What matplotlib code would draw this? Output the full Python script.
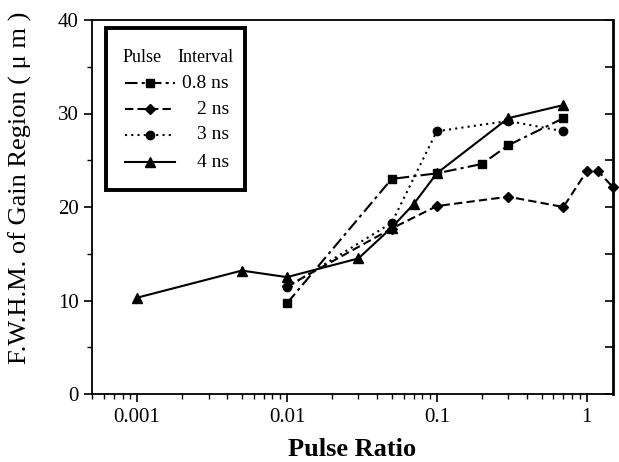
import matplotlib
matplotlib.use("Agg")
import matplotlib.pyplot as plt
from matplotlib.lines import Line2D
from matplotlib.patches import Rectangle
from matplotlib.ticker import MultipleLocator, LogLocator, NullFormatter, FixedLocator, FixedFormatter

plt.rcParams['font.family'] = ['Liberation Serif', 'DejaVu Serif']

# Data
x08 = [0.01, 0.05, 0.1, 0.2, 0.3, 0.7]
y08 = [9.7, 23.0, 23.6, 24.6, 26.6, 29.5]
x2 = [0.01, 0.05, 0.1, 0.3, 0.7, 1.0, 1.2, 1.5]
y2 = [11.5, 17.7, 20.1, 21.1, 20.0, 23.8, 23.8, 22.1]
x3 = [0.01, 0.05, 0.1, 0.3, 0.7]
y3 = [11.4, 18.3, 28.1, 29.2, 28.1]
x4 = [0.001, 0.005, 0.01, 0.03, 0.05, 0.07, 0.1, 0.3, 0.7]
y4 = [10.3, 13.2, 12.5, 14.5, 17.8, 20.3, 23.6, 29.5, 30.9]

labels = ["0.8 ns", "2 ns", "3 ns", "4 ns"]
xtick_vals = [0.001, 0.01, 0.1, 1]
xtick_labels = ["0.001", "0.01", "0.1", "1"]

W, H = 619, 462
fig = plt.figure(figsize=(W / 100, H / 100), dpi=100)
ax = fig.add_axes([92 / W, (H - 394) / H, 521 / W, 374 / H])

styles = [
    dict(ls=(0, (6, 2, 1.5, 2)), marker='s', ms=6),
    dict(ls=(0, (4, 2)), marker='D', ms=5.5),
    dict(ls=(0, (1, 2)), marker='o', ms=6),
    dict(ls='-', marker='^', ms=7),
]
series = [(x08, y08), (x2, y2), (x3, y3), (x4, y4)]
for (xs, ys), st in zip(series, styles):
    ax.plot(xs, ys, color='black', lw=1.5, linestyle=st['ls'], marker=st['marker'],
            ms=st['ms'], mfc='black', mec='black', clip_on=False, zorder=3)

ax.set_xscale('log')
ax.set_xlim(0.0005, 1.5)
ax.set_ylim(0, 40)
ax.xaxis.set_major_locator(FixedLocator(xtick_vals))
ax.xaxis.set_major_formatter(FixedFormatter(xtick_labels))
ax.xaxis.set_minor_locator(LogLocator(base=10, subs=range(2, 10), numticks=20))
ax.xaxis.set_minor_formatter(NullFormatter())
ax.yaxis.set_major_locator(MultipleLocator(10))
ax.yaxis.set_minor_locator(MultipleLocator(5))

ax.tick_params(axis='both', which='major', labelsize=15, length=6, width=1.2, direction='out')
ax.tick_params(axis='both', which='minor', length=3.5, width=1.0, direction='out')
ax.tick_params(axis='x', which='major', pad=4)

# inward ticks on the right spine
ax2 = ax.twinx()
ax2.set_ylim(0, 40)
ax2.yaxis.set_major_locator(MultipleLocator(10))
ax2.yaxis.set_minor_locator(MultipleLocator(5))
ax2.tick_params(axis='y', which='major', direction='in', length=6, width=1.2, labelright=False)
ax2.tick_params(axis='y', which='minor', direction='in', length=6, width=1.2)
for sp in ax2.spines.values():
    sp.set_visible(False)

for sp in ax.spines.values():
    sp.set_linewidth(1.3)
ax.spines['right'].set_linewidth(2)

ax.set_xlabel("Pulse Ratio", fontsize=19, fontweight='bold', labelpad=8)
ax.set_ylabel("F.W.H.M. of Gain Region ( \u03bc m )", fontsize=19)
ax.yaxis.set_label_coords(-0.115, 0.552)

# Manual legend (right-aligned labels)
tr = ax.transAxes
ax.add_patch(Rectangle((0.027, 0.545), 0.267, 0.434, transform=tr, fill=False,
                       lw=2.8, edgecolor='black', zorder=5))
ax.text(0.058, 0.901, "Pulse", transform=tr, fontsize=13, ha='left', va='center', zorder=6)
ax.text(0.271, 0.901, "Interval", transform=tr, fontsize=13, ha='right', va='center', zorder=6)
rows = [0.831, 0.762, 0.693, 0.620]
for lab, st, yy in zip(labels, styles, rows):
    ax.add_line(Line2D([0.063, 0.159], [yy, yy], transform=tr, color='black', lw=1.5,
                       linestyle=st['ls'], zorder=6))
    ax.add_line(Line2D([0.111], [yy], transform=tr, color='black', marker=st['marker'],
                       ms=st['ms'], lw=0, zorder=6))
    ax.text(0.263, yy, lab, transform=tr, fontsize=14, ha='right', va='center', zorder=6)

fig.savefig("out.png", dpi=100)
